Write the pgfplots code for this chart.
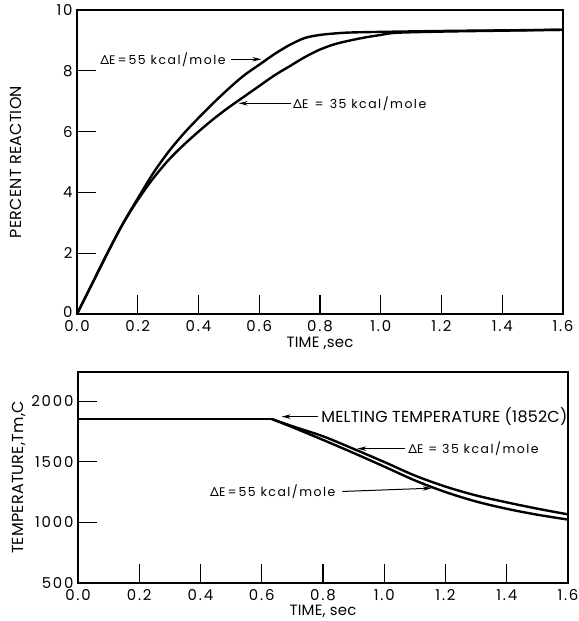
\documentclass[border=0pt]{standalone}
\usepackage{fontspec}
\setmainfont{Poppins}
\newfontfamily\grk{TeX Gyre Heros}
\newfontfamily\wideA[LetterSpace=12]{Poppins}
\newfontfamily\wideB[LetterSpace=1.5]{Poppins}
\usepackage{pgfplots}
\usepackage{pgfplotstable}
\pgfplotsset{compat=1.18}
\usetikzlibrary{arrows.meta}

\newcommand{\DE}{{\grk Δ}E}
\newcommand{\anno}{\wideA\fontsize{12.5}{15}\selectfont}
\newcommand{\ticktxt}{\wideA\fontsize{15}{18}\selectfont}
\newcommand{\bigtxt}{\wideB\fontsize{16}{19}\selectfont}

% percent reaction vs time
\pgfplotstableread{
t    p
0.00 0.00
0.05 1.00
0.10 2.00
0.15 2.95
0.20 3.80
0.25 4.62
0.30 5.32
0.35 5.92
0.40 6.45
0.45 6.95
0.50 7.42
0.55 7.85
0.60 8.20
0.65 8.55
0.70 8.85
0.75 9.08
0.80 9.18
0.85 9.23
0.90 9.26
1.00 9.28
1.20 9.31
1.40 9.33
1.60 9.35
}\reactA
\pgfplotstableread{
t    p
0.00 0.00
0.05 1.00
0.10 2.00
0.15 2.95
0.20 3.75
0.25 4.45
0.30 5.05
0.35 5.55
0.40 6.00
0.45 6.42
0.50 6.80
0.55 7.15
0.60 7.50
0.65 7.85
0.70 8.15
0.75 8.45
0.80 8.70
0.85 8.88
0.90 9.00
0.95 9.10
1.00 9.18
1.05 9.25
1.20 9.29
1.40 9.32
1.60 9.35
}\reactB

% temperature vs time: flat at melting point, then the two cooling branches
\pgfplotstableread{
t     T
0.000 1852
0.633 1852
}\tempflat
\pgfplotstableread{
t     T
0.633 1852
0.700 1785
0.800 1680
0.900 1572
1.000 1460
1.100 1346
1.200 1250
1.300 1172
1.400 1112
1.500 1063
1.600 1023
}\tempA
\pgfplotstableread{
t     T
0.633 1852
0.700 1793
0.800 1710
0.900 1606
1.000 1498
1.100 1386
1.200 1295
1.300 1222
1.400 1165
1.500 1113
1.600 1066
}\tempB

\pgfplotsset{
  panel/.style={
    scale only axis,
    clip=false,
    axis line style={line width=1.2bp},
    tick align=inside,
    xtick pos=left, ytick pos=left,
    major tick length=19bp,
    tick style={line width=1.2bp, black},
    ticklabel style={font=\ticktxt, inner sep=1.5bp},
    xticklabel style={yshift=-5bp},
    yticklabel style={xshift=-4bp, inner sep=0.3bp},
    label style={font=\bigtxt},
    xmin=0, xmax=1.6,
    xtick={0,0.2,0.4,0.6,0.8,1.0,1.2,1.4,1.6},
    xticklabels={0.0,0.2,0.4,0.6,0.8,1.0,1.2,1.4,1.6},
  },
}
\tikzset{
  curve/.style={black, line width=2.4bp},
  arr/.style={line width=1bp, -{Stealth[length=9bp,width=4.5bp]}},
}

\begin{document}
\begin{tikzpicture}
\useasboundingbox (0,0) rectangle (579bp,-621bp);

\begin{axis}[panel,
    at={(77bp,-10bp)}, anchor=north west,
    width=486bp, height=304bp,
    ymin=0, ymax=10,
    ytick={0,2,4,6,8,10}, yticklabels={\raisebox{3bp}{0},2,4,6,8,10},
    xlabel={TIME ,sec},
    xlabel style={at={(axis description cs:0.5,-0.096)}, anchor=center, font=\wideB\fontsize{15}{18}\selectfont},
    ylabel={PERCENT REACTION},
    ylabel style={at={(axis description cs:-0.126,0.5)}, anchor=center},
]
\addplot[curve, smooth] table[x=t, y=p] {\reactA};
\addplot[curve, smooth] table[x=t, y=p] {\reactB};
\node[anchor=west, inner sep=0, font=\anno] at (axis cs:0.076,8.38) {\DE\,=\,55 kcal/mole};
\draw[arr] (axis cs:0.507,8.38) -- (axis cs:0.607,8.38);
\draw[arr] (axis cs:0.705,6.93) -- (axis cs:0.532,6.93);
\node[anchor=west, inner sep=0, font=\anno] at (axis cs:0.711,6.93) {\DE\enspace=\enspace35 kcal/mole};
\end{axis}

\begin{axis}[panel,
    at={(78bp,-372bp)}, anchor=north west,
    width=490bp, height=211bp,
    ymin=500, ymax=2240,
    ytick={500,1000,1500,2000}, yticklabels={500,1000,1500,2000},
    xlabel={TIME, sec},
    xlabel style={at={(axis description cs:0.5,-0.132)}, anchor=center, font=\wideB\fontsize{15}{18}\selectfont},
    ylabel={TEMPERATURE,Tm,C},
    ylabel style={at={(axis description cs:-0.12,0.5)}, anchor=center},
]
\addplot[curve] table[x=t, y=T] {\tempflat};
\addplot[curve, smooth] table[x=t, y=T] {\tempA};
\addplot[curve, smooth] table[x=t, y=T] {\tempB};
\draw[arr] (axis cs:0.784,1872) -- (axis cs:0.665,1872);
\node[anchor=west, inner sep=0, font=\bigtxt] at (axis cs:0.794,1872) {MELTING TEMPERATURE (1852C)};
\draw[arr] (axis cs:1.069,1608) -- (axis cs:0.912,1608);
\node[anchor=west, inner sep=0, font=\anno] at (axis cs:1.078,1608) {\DE\ =\ 35 kcal/mole};
\node[anchor=west, inner sep=0, font=\anno] at (axis cs:0.431,1255) {\DE\,=\,55 kcal/mole};
\draw[arr] (axis cs:0.863,1255) -- (axis cs:1.155,1282);
\end{axis}
\end{tikzpicture}
\end{document}
